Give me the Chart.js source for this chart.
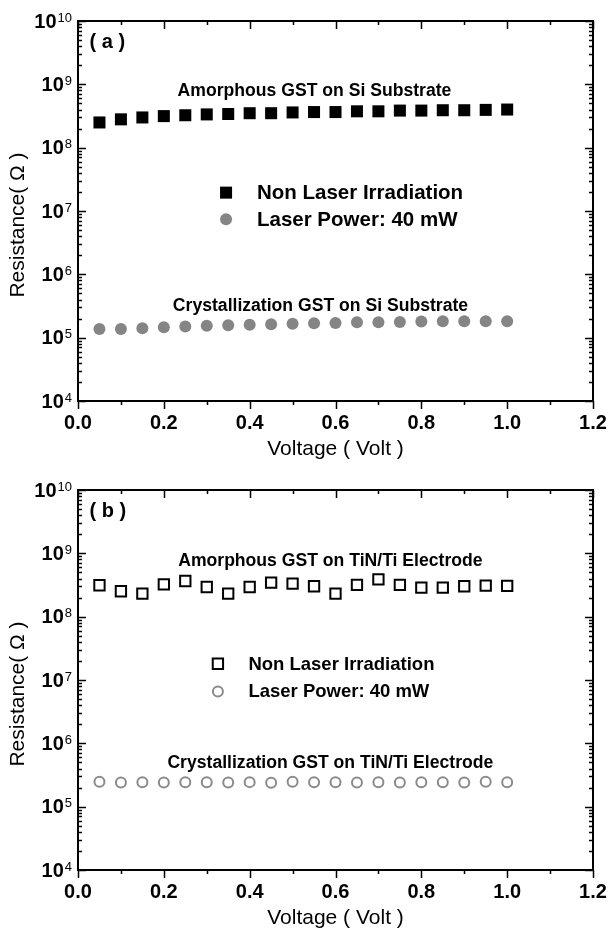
<!DOCTYPE html>
<html>
<head>
<meta charset="utf-8">
<script src="https://cdn.jsdelivr.net/npm/chart.js@4.4.1/dist/chart.umd.min.js"></script>
<style>
  html, body { margin: 0; padding: 0; background: #fff; }
  #wrap { position: relative; width: 609px; height: 934px; }
  .panel { position: absolute; left: 0; width: 609px; }
</style>
</head>
<body>
<div id="wrap">
  <div class="panel" style="top:0;height:467px"><canvas id="chartA"></canvas></div>
  <div class="panel" style="top:469px;height:465px"><canvas id="chartB"></canvas></div>
</div>
<script>
// values
const voltage = [0.05, 0.10, 0.15, 0.20, 0.25, 0.30, 0.35, 0.40, 0.45, 0.50,
                 0.55, 0.60, 0.65, 0.70, 0.75, 0.80, 0.85, 0.90, 0.95, 1.00];

// (a) GST on Si substrate
const siAmorphous = [2.5e8, 2.8e8, 3.0e8, 3.15e8, 3.25e8, 3.35e8, 3.4e8, 3.5e8, 3.5e8, 3.6e8,
                     3.65e8, 3.65e8, 3.75e8, 3.75e8, 3.85e8, 3.85e8, 3.9e8, 3.9e8, 3.95e8, 4.0e8];
const siCrystal = [1.37e5, 1.37e5, 1.41e5, 1.46e5, 1.5e5, 1.54e5, 1.57e5, 1.6e5, 1.63e5, 1.66e5,
                   1.69e5, 1.71e5, 1.75e5, 1.75e5, 1.77e5, 1.8e5, 1.82e5, 1.82e5, 1.82e5, 1.82e5];

// (b) GST on TiN/Ti electrode
const tinAmorphous = [3.13e8, 2.52e8, 2.31e8, 3.24e8, 3.66e8, 2.94e8, 2.31e8, 2.94e8, 3.45e8, 3.33e8,
                      3.02e8, 2.31e8, 3.17e8, 3.89e8, 3.17e8, 2.88e8, 2.88e8, 3.02e8, 3.09e8, 3.06e8];
const tinCrystal = [2.48e5, 2.40e5, 2.42e5, 2.40e5, 2.43e5, 2.42e5, 2.40e5, 2.44e5, 2.38e5, 2.47e5,
                    2.43e5, 2.42e5, 2.40e5, 2.42e5, 2.41e5, 2.42e5, 2.42e5, 2.41e5, 2.47e5, 2.42e5];

const seriesLabels = ['Non Laser Irradiation', 'Laser Power: 40 mW'];
const xMajorTicks = [0.0, 0.2, 0.4, 0.6, 0.8, 1.0, 1.2];
const xMinorTicks = [0.1, 0.3, 0.5, 0.7, 0.9, 1.1];
const yDecades = [4, 5, 6, 7, 8, 9, 10];

const FONT = "'Liberation Sans', Arial, Helvetica, sans-serif";

function line(ctx, x1, y1, x2, y2) {
  ctx.beginPath();
  ctx.moveTo(x1, y1);
  ctx.lineTo(x2, y2);
  ctx.stroke();
}

// frame, ticks, superscript labels, titles, notes and the in-plot legend
const framePlugin = {
  id: 'frame',
  afterDraw(chart, args, opts) {
    const { ctx, chartArea: a, scales: { x, y } } = chart;
    ctx.save();
    ctx.strokeStyle = '#000';
    ctx.fillStyle = '#000';

    // x ticks: outward on bottom, inward on top
    ctx.lineWidth = 1.5;
    const xt = (v, len) => {
      const px = Math.round(x.getPixelForValue(v)) + 0.5;
      line(ctx, px, a.bottom, px, a.bottom + len);
      line(ctx, px, a.top, px, a.top + len);
    };
    xMajorTicks.forEach(v => xt(v, 8));
    xMinorTicks.forEach(v => xt(v, 4));

    // y ticks: inward on both sides
    const yt = (v, len) => {
      const py = Math.round(y.getPixelForValue(v)) + 0.5;
      line(ctx, a.left, py, a.left + len, py);
      line(ctx, a.right, py, a.right - len, py);
    };
    yDecades.forEach((e, i) => {
      yt(Math.pow(10, e), 8);
      if (i < yDecades.length - 1) {
        for (let m = 2; m <= 9; m++) yt(m * Math.pow(10, e), 4);
      }
    });

    // box
    ctx.lineWidth = 2;
    ctx.strokeRect(a.left, a.top, a.right - a.left, a.bottom - a.top);

    // y labels 10^n
    yDecades.forEach(e => {
      const py = y.getPixelForValue(Math.pow(10, e));
      const rx = a.left - 6;
      ctx.font = 'normal 13px ' + FONT;
      ctx.textAlign = 'right';
      ctx.textBaseline = 'alphabetic';
      const sup = String(e);
      const sw = ctx.measureText(sup).width;
      ctx.fillText(sup, rx, py + 0.5);
      ctx.font = 'bold 20px ' + FONT;
      ctx.textBaseline = 'middle';
      ctx.fillText('10', rx - sw - 1, py + 1);
    });

    // axis titles
    ctx.font = 'normal 21px ' + FONT;
    ctx.textAlign = 'center';
    ctx.textBaseline = 'middle';
    ctx.fillText('Voltage ( Volt )', (a.left + a.right) / 2, a.bottom + 48);
    ctx.save();
    ctx.translate(18, a.top + 204);
    ctx.rotate(-Math.PI / 2);
    ctx.fillText('Resistance( \u03A9 )', 0, 0);
    ctx.restore();

    // panel tag
    ctx.font = 'bold 20px ' + FONT;
    ctx.textAlign = 'left';
    ctx.fillText(opts.tag, x.getPixelForValue(0.027), y.getPixelForValue(Math.pow(10, 9.66)));

    // notes
    ctx.font = 'bold 17.6px ' + FONT;
    ctx.textAlign = 'center';
    opts.notes.forEach(n => {
      ctx.fillText(n.text, x.getPixelForValue(n.x), y.getPixelForValue(Math.pow(10, n.logY)));
    });

    // legend
    const lg = opts.legend;
    chart.data.datasets.forEach((ds, i) => {
      const py = y.getPixelForValue(Math.pow(10, lg.logY[i]));
      ctx.fillStyle = ds.backgroundColor;
      ctx.strokeStyle = ds.borderColor;
      ctx.lineWidth = ds.borderWidth;
      Chart.helpers.drawPoint(ctx, {
        pointStyle: ds.pointStyle, radius: ds.pointRadius,
        borderWidth: ds.borderWidth, rotation: 0
      }, x.getPixelForValue(lg.markerX), py);
      ctx.fillStyle = '#000';
      ctx.font = 'bold ' + lg.size + 'px ' + FONT;
      ctx.textAlign = 'left';
      ctx.textBaseline = 'middle';
      ctx.fillText(ds.label, x.getPixelForValue(lg.textX), py + 1);
    });
    ctx.restore();
  }
};

function makeChart(id, canvasHeight, amorphous, crystal, hollow, opts) {
  const pts = arr => voltage.map((v, i) => ({ x: v, y: arr[i] }));
  return new Chart(document.getElementById(id), {
    type: 'scatter',
    data: {
      datasets: [
        {
          label: seriesLabels[0],
          data: pts(amorphous),
          pointStyle: 'rect',
          pointRadius: hollow ? 7.3 : 8.5,
          pointHoverRadius: hollow ? 7.3 : 8.5,
          backgroundColor: hollow ? 'rgba(0,0,0,0)' : '#000',
          borderColor: '#000',
          borderWidth: hollow ? 2 : 0
        },
        {
          label: seriesLabels[1],
          data: pts(crystal),
          pointStyle: 'circle',
          pointRadius: hollow ? 5 : 6,
          pointHoverRadius: hollow ? 5 : 6,
          backgroundColor: hollow ? 'rgba(0,0,0,0)' : '#858585',
          borderColor: '#8a8a8a',
          borderWidth: hollow ? 2 : 0
        }
      ]
    },
    options: {
      responsive: true,
      maintainAspectRatio: false,
      animation: false,
      layout: { padding: { top: 21, right: 16, left: 0, bottom: 0 } },
      plugins: {
        legend: { display: false },
        tooltip: { enabled: false },
        frame: opts
      },
      scales: {
        x: {
          type: 'linear',
          min: 0,
          max: 1.2,
          grid: { display: false, drawTicks: false },
          border: { display: false },
          ticks: {
            stepSize: 0.2,
            padding: 10,
            color: '#000',
            font: { family: FONT, size: 20, weight: 'bold' },
            callback: v => v.toFixed(1)
          },
          afterFit: s => {
            s.height = canvasHeight - 401;
            s.paddingLeft = 0;
            s.paddingRight = 0;
          }
        },
        y: {
          type: 'logarithmic',
          min: 1e4,
          max: 1e10,
          grid: { display: false, drawTicks: false },
          border: { display: false },
          ticks: { display: false },
          afterFit: s => {
            s.width = 78;
            s.paddingTop = 0;
            s.paddingBottom = 0;
          }
        }
      }
    },
    plugins: [framePlugin]
  });
}

makeChart('chartA', 467, siAmorphous, siCrystal, false, {
  tag: '( a )',
  notes: [
    { text: 'Amorphous GST on Si Substrate', x: 0.551, logY: 8.89 },
    { text: 'Crystallization GST on Si Substrate', x: 0.565, logY: 5.5 }
  ],
  legend: { markerX: 0.345, textX: 0.417, logY: [7.29, 6.87], size: 20.5 }
});

makeChart('chartB', 465, tinAmorphous, tinCrystal, true, {
  tag: '( b )',
  notes: [
    { text: 'Amorphous GST on TiN/Ti Electrode', x: 0.588, logY: 8.88 },
    { text: 'Crystallization GST on TiN/Ti Electrode', x: 0.588, logY: 5.69 }
  ],
  legend: { markerX: 0.326, textX: 0.397, logY: [7.257, 6.82], size: 18.5 }
});
</script>
</body>
</html>
